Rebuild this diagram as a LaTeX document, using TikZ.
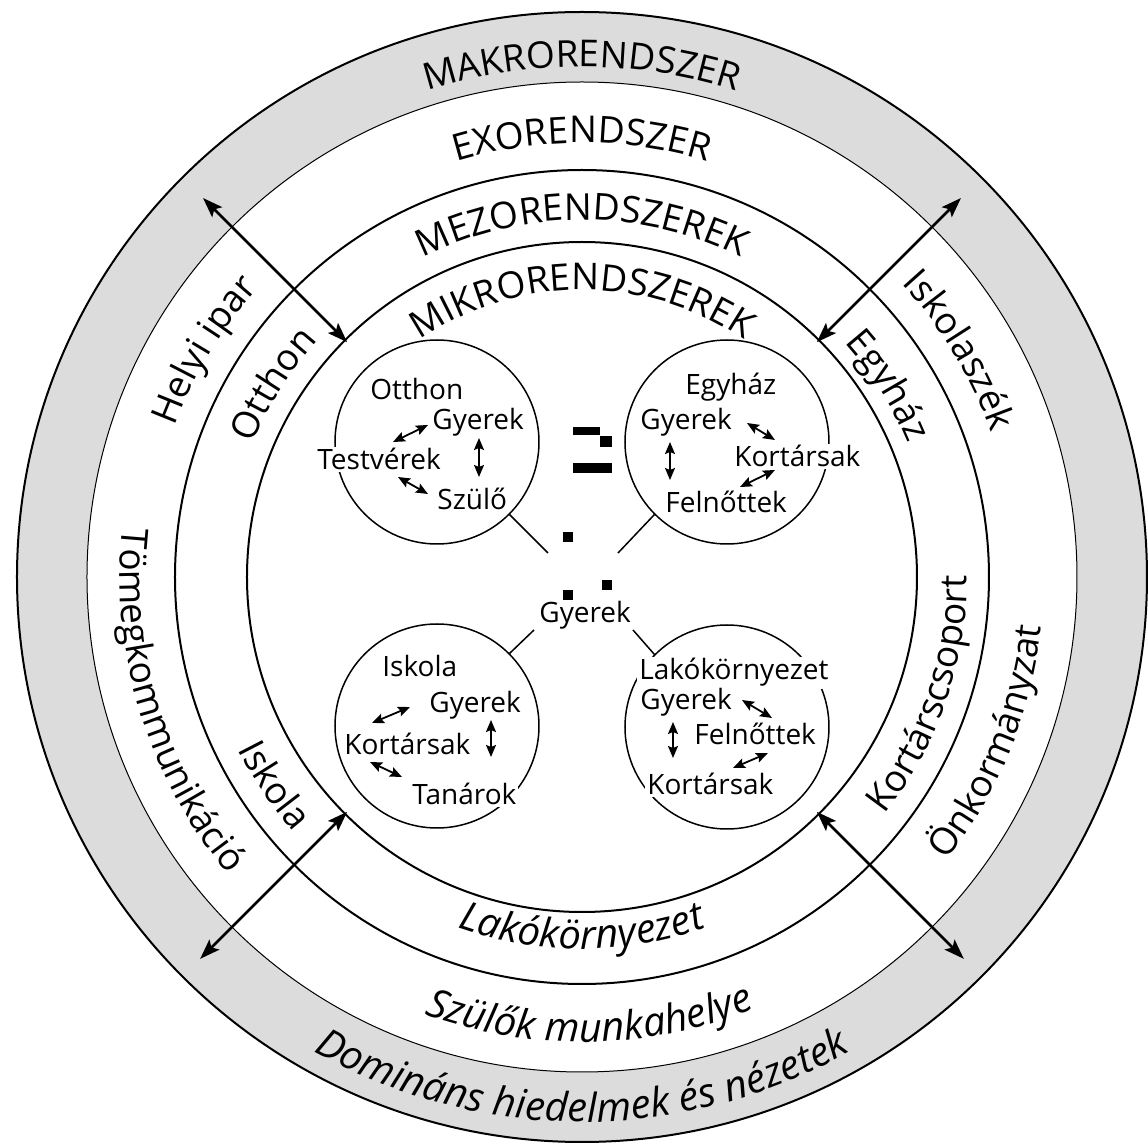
\documentclass[tikz,border=0pt]{standalone}
\usepackage{fontspec}
\setmainfont{Open Sans}
\usetikzlibrary{arrows.meta,decorations.text}
\newcommand\bigfnt{\fontsize{18.5}{20}\selectfont}
\newcommand\botfnt{\fontsize{20}{22}\selectfont\itshape}
\newcommand\smfnt{\fontsize{14}{16}\selectfont}
\definecolor{bandgray}{RGB}{220,220,220}
\newcommand\cwtext[4]{%
  \path[decorate, decoration={text along path, text align=center, text={#4}}]
    (0,0) ++(#1+#3:#2) arc[start angle=#1+#3, end angle=#1-#3, radius=#2];}
\newcommand\ccwtext[4]{%
  \path[decorate, decoration={text along path, text align=center, text={#4}}]
    (0,0) ++(#1-#3:#2) arc[start angle=#1-#3, end angle=#1+#3, radius=#2];}
\tikzset{
  ring/.style={line width=1pt},
  thinring/.style={line width=0.5pt},
  bigarrow/.style={line width=1.4pt, {Stealth[length=10pt,width=7pt,inset=2pt]}-{Stealth[length=10pt,width=7pt,inset=2pt]}},
  smallarrow/.style={line width=0.9pt, {Stealth[length=6pt,width=5pt,inset=1pt]}-{Stealth[length=6pt,width=5pt,inset=1pt]}},
  subcircle/.style={draw, circle, line width=0.75pt, minimum size=102pt, inner sep=0pt},
  lbl/.style={font=\smfnt, anchor=base west, inner sep=1pt, fill=white},
  link/.style={line width=0.75pt},
}
\begin{document}
\begin{tikzpicture}[x=0.5pt,y=0.5pt]
\useasboundingbox (-582,-569) rectangle (566,577);
% rings
\fill[bandgray, even odd rule] (0,0) circle[radius=565] (0,0) circle[radius=495];
\draw[ring] (0,0) circle[radius=565];
\draw[thinring] (0,0) circle[radius=495];
\draw[ring] (0,0) circle[radius=407];
\draw[ring] (0,0) circle[radius=335];
% ring labels (clockwise, tops outward)
\cwtext{90}{510}{60}{|\bigfnt|MAKRORENDSZER}
\cwtext{90}{434}{60}{|\bigfnt|EXORENDSZER}
\cwtext{90}{357}{60}{|\bigfnt|MEZORENDSZEREK}
\cwtext{90}{287}{70}{|\bigfnt|MIKRORENDSZEREK}
\cwtext{149}{434}{30}{|\bigfnt|Helyi ipar}
\cwtext{148}{355}{30}{|\bigfnt|Otthon}
\cwtext{32}{352}{30}{|\bigfnt|Egyház}
\cwtext{31}{434}{30}{|\bigfnt|Iskolaszék}
% ring labels (counter-clockwise, tops inward)
\ccwtext{270}{545}{50}{|\botfnt|Domináns hiedelmek és nézetek}
\ccwtext{271}{465}{50}{|\botfnt|Szülők munkahelye}
\ccwtext{270}{372}{50}{|\botfnt|Lakókörnyezet}
\ccwtext{197}{462}{40}{|\bigfnt|Tömegkommunikáció}
\ccwtext{-22}{462}{40}{|\bigfnt|Önkormányzat}
\ccwtext{-19}{385}{40}{|\bigfnt|Kortárscsoport}
\ccwtext{214}{385}{30}{|\bigfnt|Iskola}
% big arrows
\coordinate (a1o) at (135:536); \coordinate (a1i) at (135:332);
\coordinate (a2o) at (45:536);  \coordinate (a2i) at (45:332);
\coordinate (a3o) at (225:540); \coordinate (a3i) at (225:332);
\coordinate (a4o) at (315:540); \coordinate (a4i) at (315:332);
\draw[bigarrow] (a1o) -- (a1i);
\draw[bigarrow] (a2o) -- (a2i);
\draw[bigarrow] (a3o) -- (a3i);
\draw[bigarrow] (a4o) -- (a4i);
% sub circles
\node[subcircle] (home) at (-145,135) {};
\node[subcircle] (church) at (145,135) {};
\node[subcircle] (school) at (-145,-149) {};
\node[subcircle] (neigh) at (145,-150) {};
% centre
\node[lbl, fill=none] (kid) at (-45,-46) {Gyerek};
\coordinate (hj) at (-34,24);
\coordinate (cj) at (36,24);
\coordinate (sj) at (-48,-53);
\coordinate (nj) at (51,-53);
\draw[link] (home.-45) -- (hj);
\draw[link] (church.-135) -- (cj);
\draw[link] (school.45) -- (sj);
\draw[link] (neigh.135) -- (nj);
% black marks
\fill (-9,142) rectangle (18,150);
\fill (18,130) rectangle (30,141);
\fill (-9,104) rectangle (30,114);
\fill (-19,35) rectangle (-9,45);
\fill (-19,-23) rectangle (-9,-13);
\fill (20,-13) rectangle (30,-3);
% home
\node[lbl] (h0) at (-214,177) {Otthon};
\node[lbl] (h1) at (-152,147) {Gyerek};
\node[lbl] (h2) at (-267,107) {Testvérek};
\node[lbl] (h3) at (-147,67) {Szülő};
\coordinate (h12a) at (-189,135); \coordinate (h12b) at (-154,152);
\coordinate (h13a) at (-103,139); \coordinate (h13b) at (-103,100);
\coordinate (h23a) at (-184,100); \coordinate (h23b) at (-154,83);
\draw[smallarrow] (h12a) -- (h12b);
\draw[smallarrow] (h13a) -- (h13b);
\draw[smallarrow] (h23a) -- (h23b);
% church
\node[lbl] (c0) at (101,182) {Egyház};
\node[lbl] (c1) at (56,147) {Gyerek};
\node[lbl] (c2) at (150,110) {Kortársak};
\node[lbl] (c3) at (81,64) {Felnőttek};
\coordinate (c12a) at (165,154); \coordinate (c12b) at (193,137);
\coordinate (c13a) at (88,135); \coordinate (c13b) at (88,97);
\coordinate (c23a) at (193,107); \coordinate (c23b) at (158,90);
\draw[smallarrow] (c12a) -- (c12b);
\draw[smallarrow] (c13a) -- (c13b);
\draw[smallarrow] (c23a) -- (c23b);
% school
\node[lbl] (s0) at (-202,-100) {Iskola};
\node[lbl] (s1) at (-155,-136) {Gyerek};
\node[lbl] (s2) at (-240,-178) {Kortársak};
\node[lbl] (s3) at (-172,-228) {Tanárok};
\coordinate (s12a) at (-210,-146); \coordinate (s12b) at (-172,-130);
\coordinate (s13a) at (-91,-143); \coordinate (s13b) at (-91,-180);
\coordinate (s23a) at (-212,-185); \coordinate (s23b) at (-180,-200);
\draw[smallarrow] (s12a) -- (s12b);
\draw[smallarrow] (s13a) -- (s13b);
\draw[smallarrow] (s23a) -- (s23b);
% neighbourhood
\node[lbl] (n0) at (55,-103) {Lakókörnyezet};
\node[lbl] (n1) at (56,-133) {Gyerek};
\node[lbl] (n2) at (110,-168) {Felnőttek};
\node[lbl] (n3) at (63,-218) {Kortársak};
\coordinate (n12a) at (160,-123); \coordinate (n12b) at (190,-141);
\coordinate (n13a) at (91,-145); \coordinate (n13b) at (91,-181);
\coordinate (n23a) at (186,-176); \coordinate (n23b) at (151,-191);
\draw[smallarrow] (n12a) -- (n12b);
\draw[smallarrow] (n13a) -- (n13b);
\draw[smallarrow] (n23a) -- (n23b);
\end{tikzpicture}
\end{document}
